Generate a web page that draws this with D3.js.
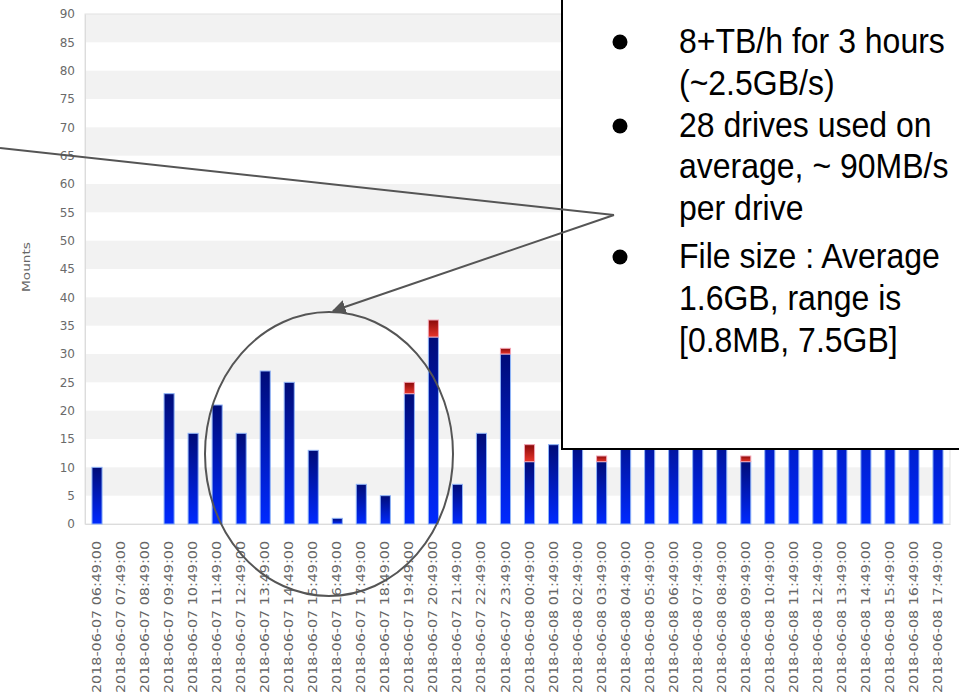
<!DOCTYPE html>
<html>
<head>
<meta charset="utf-8">
<script src="https://cdn.jsdelivr.net/npm/d3@7"></script>
<style>
  html, body { margin: 0; padding: 0; background: #fff; }
  svg { display: block; }
</style>
</head>
<body>
<svg id="chart" width="959" height="695"></svg>
<script>
// ---- data ----
const categories = [
  "2018-06-07 06:49:00","2018-06-07 07:49:00","2018-06-07 08:49:00","2018-06-07 09:49:00",
  "2018-06-07 10:49:00","2018-06-07 11:49:00","2018-06-07 12:49:00","2018-06-07 13:49:00",
  "2018-06-07 14:49:00","2018-06-07 15:49:00","2018-06-07 16:49:00","2018-06-07 17:49:00",
  "2018-06-07 18:49:00","2018-06-07 19:49:00","2018-06-07 20:49:00","2018-06-07 21:49:00",
  "2018-06-07 22:49:00","2018-06-07 23:49:00","2018-06-08 00:49:00","2018-06-08 01:49:00",
  "2018-06-08 02:49:00","2018-06-08 03:49:00","2018-06-08 04:49:00","2018-06-08 05:49:00",
  "2018-06-08 06:49:00","2018-06-08 07:49:00","2018-06-08 08:49:00","2018-06-08 09:49:00",
  "2018-06-08 10:49:00","2018-06-08 11:49:00","2018-06-08 12:49:00","2018-06-08 13:49:00",
  "2018-06-08 14:49:00","2018-06-08 15:49:00","2018-06-08 16:49:00","2018-06-08 17:49:00"
];
// successful mounts (blue)
const successValues = [10,0,0,23,16,21,16,27,25,13,1,7,5,23,33,7,16,30,11,14,
                       15,11,18,20,19,21,18,11,32,35,38,34,36,40,37,33];
// failed mounts (red)
const failedValues  = [0,0,0,0,0,0,0,0,0,0,0,0,0,2,3,0,0,1,3,0,
                       0,1,0,0,0,0,0,1,0,0,0,0,0,0,0,0];
const yTicks = d3.range(0, 91, 5);
const yLabel = "Mounts";
const notes = [
  { bullet: true,  text: "8+TB/h for 3 hours" },
  { bullet: false, text: "(~2.5GB/s)" },
  { bullet: true,  text: "28 drives used on" },
  { bullet: false, text: "average, ~ 90MB/s" },
  { bullet: false, text: "per drive" },
  { bullet: true,  text: "File size : Average" },
  { bullet: false, text: "1.6GB, range is" },
  { bullet: false, text: "[0.8MB, 7.5GB]" }
];

(function () {
// ---- layout ----
const svg = d3.select("#chart");
const pL = 85, pR = 950, pT = 14, pB = 524;

const x = d3.scaleBand().domain(categories).range([pL, pR])
  .paddingInner(0.58).paddingOuter(0.29);
const y = d3.scaleLinear().domain([0, 90]).range([pB, pT]);

// gradients
const defs = svg.append("defs");
const gBlue = defs.append("linearGradient").attr("id", "gBlue")
  .attr("x1", 0).attr("y1", 0).attr("x2", 0).attr("y2", 1);
gBlue.append("stop").attr("offset", "0%").attr("stop-color", "#000c78");
gBlue.append("stop").attr("offset", "100%").attr("stop-color", "#002aff");
const gRed = defs.append("linearGradient").attr("id", "gRed")
  .attr("x1", 0).attr("y1", 0).attr("x2", 0).attr("y2", 1);
gRed.append("stop").attr("offset", "0%").attr("stop-color", "#8a0a0a");
gRed.append("stop").attr("offset", "100%").attr("stop-color", "#e8352a");

// alternating bands
const bands = d3.range(5, 90, 10);
svg.append("g").selectAll("rect").data(bands).join("rect")
  .attr("x", pL).attr("width", pR - pL)
  .attr("y", d => y(d + 5)).attr("height", d => y(d) - y(d + 5))
  .attr("fill", "#f2f2f2");

// frame
svg.append("rect").attr("x", pL).attr("y", pT)
  .attr("width", pR - pL).attr("height", pB - pT)
  .attr("fill", "none").attr("stroke", "#e2e2e2").attr("stroke-width", 1);

// y axis
const yAxis = svg.append("g").attr("transform", `translate(${pL},0)`)
  .call(d3.axisLeft(y).tickValues(yTicks).tickSize(0).tickPadding(10));
yAxis.select(".domain").attr("stroke", "#dcdcdc");
yAxis.selectAll("text").attr("fill", "#6a6a6a").style("font-family", "DejaVu Sans")
  .style("font-size", "12px");

// y label
svg.append("text").attr("transform", "translate(30,267) rotate(-90)")
  .attr("text-anchor", "middle").attr("fill", "#666")
  .style("font-family", "DejaVu Sans").style("font-size", "11px")
  .attr("textLength", 50).attr("lengthAdjust", "spacingAndGlyphs")
  .text(yLabel);

// x axis
const xAxis = svg.append("g").attr("transform", `translate(0,${pB})`)
  .call(d3.axisBottom(x).tickSize(0));
xAxis.select(".domain").attr("stroke", "#dcdcdc");
xAxis.selectAll("text")
  .attr("fill", "#666")
  .style("font-family", "DejaVu Sans").style("font-size", "11.5px")
  .attr("text-anchor", "end")
  .attr("dy", "0.35em")
  .attr("transform", "translate(0,17) rotate(-90)")
  .attr("x", 0).attr("y", 0)
  .attr("textLength", 152).attr("lengthAdjust", "spacingAndGlyphs");

// bars
const rows = categories.map((c, i) => ({ c, s: successValues[i], f: failedValues[i] }));
const bw = x.bandwidth();
svg.append("g").selectAll("rect").data(rows.filter(d => d.s > 0)).join("rect")
  .attr("x", d => x(d.c)).attr("width", bw)
  .attr("y", d => y(d.s)).attr("height", d => y(0) - y(d.s))
  .attr("fill", "url(#gBlue)").attr("stroke", "#8fb4f7").attr("stroke-width", 1);
svg.append("g").selectAll("rect").data(rows.filter(d => d.f > 0)).join("rect")
  .attr("x", d => x(d.c)).attr("width", bw)
  .attr("y", d => y(d.s + d.f)).attr("height", d => y(d.s) - y(d.s + d.f))
  .attr("fill", "url(#gRed)").attr("stroke", "#f2a3b3").attr("stroke-width", 1);

// ---- annotation overlay ----
svg.append("rect").attr("x", 562).attr("y", -1).attr("width", 410).attr("height", 450)
  .attr("fill", "#fff").attr("stroke", "#000").attr("stroke-width", 2);

const noteG = svg.append("g");
const baselines = [53, 95, 137, 178, 220, 268, 310, 352];
notes.forEach((n, i) => {
  const by = baselines[i];
  if (n.bullet) {
    noteG.append("circle").attr("cx", 620).attr("cy", by - 11).attr("r", 7.5).attr("fill", "#000");
  }
  noteG.append("text").attr("x", 679).attr("y", by)
    .attr("transform", `translate(0,${by}) scale(1,1.08) translate(0,${-by})`)
    .style("font-family", "Liberation Sans, Arial, sans-serif").style("font-size", "32px")
    .attr("fill", "#000").text(n.text);
});

// arrow marker
defs.append("marker").attr("id", "arrow").attr("viewBox", "0 0 10 10")
  .attr("refX", 9).attr("refY", 5).attr("markerWidth", 7).attr("markerHeight", 7)
  .attr("markerUnits", "strokeWidth").attr("orient", "auto")
  .append("path").attr("d", "M0,0 L10,5 L0,10 z").attr("fill", "#555");

svg.append("line").attr("x1", 0).attr("y1", 148).attr("x2", 614).attr("y2", 215)
  .attr("stroke", "#555").attr("stroke-width", 2);
svg.append("line").attr("x1", 614).attr("y1", 215).attr("x2", 333).attr("y2", 311)
  .attr("stroke", "#555").attr("stroke-width", 2).attr("marker-end", "url(#arrow)");

svg.append("ellipse").attr("cx", 329).attr("cy", 454).attr("rx", 124).attr("ry", 142)
  .attr("fill", "none").attr("stroke", "#555").attr("stroke-width", 2);
})();
</script>
</body>
</html>
